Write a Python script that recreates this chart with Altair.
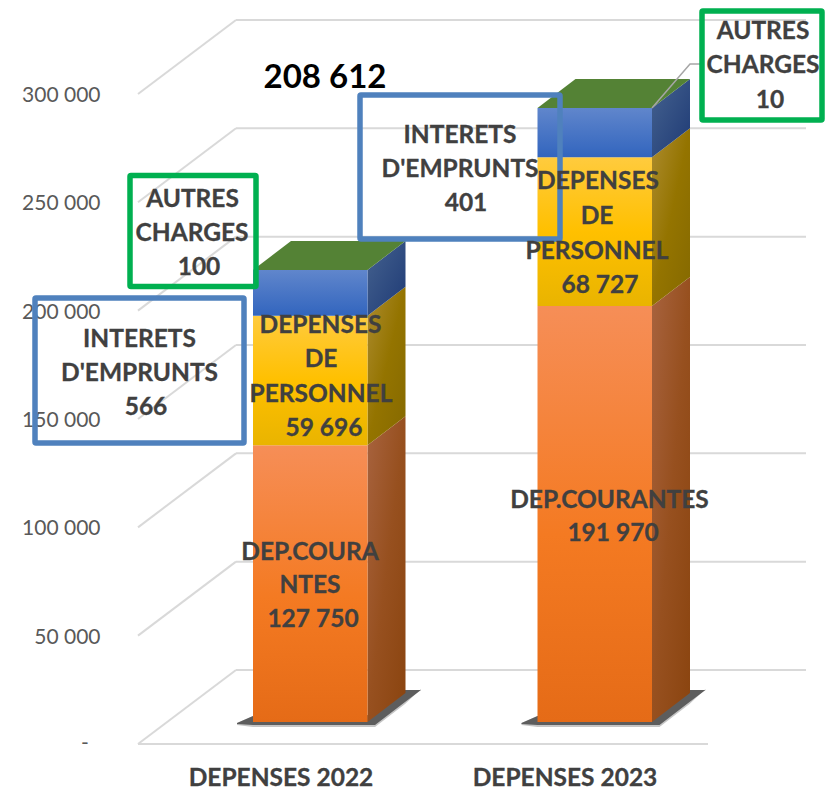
import altair as alt
import pandas as pd

# ---- values
YEARS = ["DEPENSES 2022", "DEPENSES 2023"]
DEP_COURANTES = [127750, 191970]
DEP_PERSONNEL = [59696, 68727]
BLOC_HAUT = [21166, 22700]          # height of the blue block
TOTAL_LABEL = "208 612"
Y_TICKS = [0, 50000, 100000, 150000, 200000, 250000, 300000]
BAR_LEFT = [253, 537.5]
BAR_WIDTH = 114.5

# ---- pseudo-3D projection (x in page px, y in value units)
PX_PER_UNIT = 2.1667 / 1000
ZERO_PAGE_Y = 744
def v(page_y):
    return (ZERO_PAGE_Y - page_y) / PX_PER_UNIT
def dv(px):
    return px / PX_PER_UNIT
BAR_BASE = dv(22)
DEPTH_X, DEPTH_V = 38, dv(29)
WALL_X0, WALL_X1 = 138, 236
FLOOR_END, BACK_END = 708, 806

xs = alt.Scale(domain=[8, 825], range=[0, 817], nice=False, zero=False)
ys = alt.Scale(domain=[v(791), v(8)], range=[783, 0], nice=False, zero=False)
Y_AXIS = alt.Axis(
    orient="left", values=Y_TICKS[1:], offset=-92, domain=False, ticks=False, grid=False,
    labelPadding=0, labelOffset=1.5, labelFont="Lato", labelFontSize=21, labelColor="#595959", title=None,
    labelExpr="replace(format(datum.value, ',d'), ',', ' ')")
X = alt.X("x:Q", scale=xs, axis=None)
Y = alt.Y("y:Q", scale=ys, axis=Y_AXIS)
X2 = alt.X2("x2:Q")
Y2 = alt.Y2("y2:Q")

def grad(stops, x1=0, y1=0, x2=0, y2=1):
    return alt.LinearGradient(
        gradient="linear", x1=x1, y1=y1, x2=x2, y2=y2,
        stops=[alt.GradientStop(color=c, offset=o) for o, c in stops])

FRONT = {
    "orange": [(0, "#F68E57"), (0.55, "#F47A22"), (1, "#E56B17")],
    "yellow": [(0, "#FFCB3E"), (0.5, "#FFC000"), (1, "#E9B400")],
    "blue": [(0, "#6086CC"), (1, "#3265BE")],
}
SIDE = {
    "orange": [(0, "#A8633F"), (0.5, "#97501F"), (1, "#8A440F")],
    "yellow": [(0, "#AD8C30"), (0.5, "#947400"), (1, "#856900")],
    "blue": [(0, "#45628F"), (1, "#1E3A75")],
}
TOP_COLOR = "#548235"
GRID = "#D9D9D9"
TXT = "#404040"
GREEN = "#00B050"
BLUE = "#4F81BD"

layers = []

# gridlines
rules = []
for t in Y_TICKS:
    rules.append(dict(x=WALL_X0, x2=WALL_X1, y=t, y2=t + dv(74)))
    rules.append(dict(x=WALL_X1, x2=BACK_END, y=t + dv(74), y2=t + dv(74)))
rules.append(dict(x=WALL_X0, x2=FLOOR_END, y=0, y2=0))
layers.append(alt.Chart(pd.DataFrame(rules)).mark_rule(color=GRID, strokeWidth=2).encode(x=X, x2=X2, y=Y, y2=Y2))

# zero tick label, drawn like the accounting "-" of the reference
zero = pd.DataFrame([{"t": "-", "x": 85, "y": Y_TICKS[0]}])
layers.append(alt.Chart(zero).mark_text(font="Lato", fontSize=21, color="#595959",
                                        align="center", baseline="middle").encode(x=X, y=Y, text="t:N"))

# shadows
SHADOW_DX = [-16, 0, 122, 152, 168]
SHADOW_UP = [-1, 6, 7, 32, 32]
SHADOW_LO = [-2, -3, -3, 20, 32]
SOFT_LO = [-3, -5, -5, 18, 33]
for x0 in BAR_LEFT:
    soft = pd.DataFrame({"x": [x0 + d for d in SHADOW_DX],
                         "y": [BAR_BASE + dv(u) for u in SHADOW_UP],
                         "y2": [BAR_BASE + dv(l) for l in SOFT_LO]})
    layers.append(alt.Chart(soft).mark_area(color="#8C8C8C", opacity=0.5).encode(x=X, y=Y, y2=Y2))
    sh = pd.DataFrame({"x": [x0 + d for d in SHADOW_DX],
                       "y": [BAR_BASE + dv(u) for u in SHADOW_UP],
                       "y2": [BAR_BASE + dv(l) for l in SHADOW_LO]})
    layers.append(alt.Chart(sh).mark_area(color="#4A4A4A", opacity=0.85).encode(x=X, y=Y, y2=Y2))

# bars
for i, x0 in enumerate(BAR_LEFT):
    x1 = x0 + BAR_WIDTH
    b0 = BAR_BASE
    b1 = b0 + DEP_COURANTES[i]
    b2 = b1 + DEP_PERSONNEL[i]
    b3 = b2 + BLOC_HAUT[i]
    for name, lo, hi in (("orange", b0, b1), ("yellow", b1, b2), ("blue", b2, b3)):
        side = pd.DataFrame({"x": [x1, x1 + DEPTH_X], "y": [hi, hi + DEPTH_V], "y2": [lo, lo + DEPTH_V]})
        layers.append(alt.Chart(side).mark_area(
            color=grad(SIDE[name], 0, 0, 1, 1), interpolate="linear").encode(x=X, y=Y, y2=Y2))
        front = pd.DataFrame({"x": [x0], "x2": [x1], "y": [hi], "y2": [lo]})
        layers.append(alt.Chart(front).mark_rect(color=grad(FRONT[name])).encode(x=X, x2=X2, y=Y, y2=Y2))
    top = pd.DataFrame({"y": [b3, b3 + DEPTH_V], "x": [x0, x0 + DEPTH_X], "x2": [x1, x1 + DEPTH_X]})
    layers.append(alt.Chart(top).mark_area(color=TOP_COLOR, orient="horizontal").encode(x=X, x2=X2, y=Y))

# leader line
leader = pd.DataFrame({"x": [652, 690, 700], "y": [v(108), v(64), v(64)]})
layers.append(alt.Chart(leader).mark_line(color="#A6A6A6", strokeWidth=1.5).encode(x=X, y=Y))

# outlined label boxes: left, right, top, bottom (page position)
BOXES = [
    (130, 256, 175.5, 286.5, GREEN),
    (35, 244, 298, 443, BLUE),
    (360, 560, 95, 239, BLUE),
    (702, 822, 11, 120, GREEN),
]
for l, r, t, b, c in BOXES:
    d = pd.DataFrame({"x": [l], "x2": [r], "y": [v(t)], "y2": [v(b)]})
    layers.append(alt.Chart(d).mark_rect(fill="transparent", stroke=c, strokeWidth=5.5, cornerRadius=1).encode(x=X, x2=X2, y=Y, y2=Y2))

# text lines: text, centre x, baseline (page)
LABELS = [
    ("AUTRES", 192.5, 207), ("CHARGES", 192, 241), ("100", 199, 275),
    ("INTERETS", 139.5, 347), ("D'EMPRUNTS", 139.5, 381), ("566", 146, 415),
    ("INTERETS", 460, 143), ("D'EMPRUNTS", 460, 177), ("401", 466, 211),
    ("AUTRES", 763, 39), ("CHARGES", 763, 73), ("10", 770, 108),
    ("DEPENSES", 320.5, 333), ("DE", 321, 367), ("PERSONNEL", 321, 402), ("59 696", 324, 436),
    ("DEP.COURA", 310, 560), ("NTES", 310, 593), ("127 750", 313, 627),
    ("DEPENSES", 598, 189), ("DE", 597, 224), ("PERSONNEL", 597, 259), ("68 727", 600, 293),
    ("DEP.COURANTES", 609.5, 508), ("191 970", 613, 541),
    (YEARS[0], 281, 786), (YEARS[1], 565, 786),
]
lab = pd.DataFrame([{"t": t, "x": x, "y": v(y)} for t, x, y in LABELS])
layers.append(alt.Chart(lab).mark_text(font="Lato", fontWeight="bold", fontSize=24.5, color=TXT,
                                       stroke=TXT, strokeWidth=0.3,
                                       align="center", baseline="alphabetic").encode(x=X, y=Y, text="t:N"))
tot = pd.DataFrame([{"t": TOTAL_LABEL, "x": 325, "y": v(88)}])
layers.append(alt.Chart(tot).mark_text(font="Lato", fontWeight="bold", fontSize=33, color="#000000",
                                       align="center", baseline="alphabetic").encode(x=X, y=Y, text="t:N"))

chart = alt.layer(*layers).properties(
    width=817, height=783,
    autosize=alt.AutoSizeParams(type="none"),
    padding=0,
    background="white",
).configure_view(strokeWidth=0)

chart.save("out.html", embed_options={"renderer": "svg", "actions": False})
